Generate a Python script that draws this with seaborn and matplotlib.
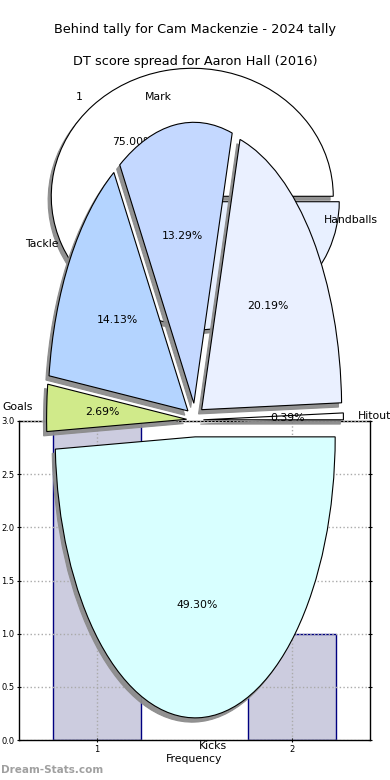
import matplotlib
matplotlib.use("Agg")
import matplotlib.pyplot as plt
import seaborn as sns
import numpy as np

# ---- data ----
bar_title = "Behind tally for Cam Mackenzie - 2024 tally"
freq_labels = ["1", "2"]
freq_counts = [3, 1]

pie1_labels = ["1", "2"]
pie1_values = [3, 1]

dt_title = "DT score spread for Aaron Hall (2016)"
dt_labels = ["Hitout", "Handballs", "Mark", "Tackle", "Goals", "Kicks"]
dt_values = [0.39, 20.19, 13.29, 14.13, 2.69, 49.30]

# ---- styles ----
W, H = 390, 780
fig = plt.figure(figsize=(W / 100, H / 100), dpi=100)
fig.patch.set_facecolor("white")

def px_axes(x0, y0, x1, y1):
    return fig.add_axes([x0 / W, 1 - y1 / H, (x1 - x0) / W, (y1 - y0) / H])

# bar chart axes
axb = px_axes(19, 421, 370, 740)
sns.barplot(x=freq_labels, y=freq_counts, ax=axb, width=0.45, color="#ccccdf",
            saturation=1, edgecolor="#000080", linewidth=1.0, zorder=1)
axb.set_xlim(-0.4, 1.4)
axb.set_ylim(0, 3.0)
axb.set_yticks(np.arange(0, 3.01, 0.5))
axb.set_yticklabels([f"{v:.1f}" for v in np.arange(0, 3.01, 0.5)])
axb.grid(True, linestyle=":", color="#aaaaaa", linewidth=1.0)
axb.set_axisbelow(False)
axb.tick_params(labelsize=6, length=3, width=0.8, direction="inout", right=True, top=True, pad=2)
axb.set_xlabel("Frequency", fontsize=7.8, labelpad=0)
axb.set_ylabel("")
for s in axb.spines.values():
    s.set_linewidth(1.0)
    s.set_color("black")

fig.text(195 / W, 1 - 30 / H, bar_title, ha="center", va="center", fontsize=9.3)

shadow_style = dict(facecolor="#8c8c8c", edgecolor="#8c8c8c", alpha=0.95)

# first pie (frequency share)
axp1 = px_axes(19, 39, 371.5, 359)
axp1.pie(pie1_values, labels=pie1_labels, colors=["white", "#e8f0ff"],
         explode=[0.03, 0.03], autopct="%.2f%%",
         shadow=dict(ox=-0.016, oy=-0.022, **shadow_style),
         wedgeprops=dict(edgecolor="black", linewidth=0.8),
         textprops=dict(fontsize=7.8))
axp1.set_aspect("auto")
axp1.set_xlim(-1.25, 1.25)
axp1.set_ylim(-1.25, 1.25)

# DT score pie
axd = px_axes(20, 68.75, 370, 771.25)
axd.pie(dt_values, labels=dt_labels,
        colors=["white", "#eaf0ff", "#c4d8ff", "#b4d4ff", "#d0ea8a", "#d8ffff"],
        explode=[0.06] * len(dt_values), autopct="%.2f%%",
        shadow=dict(ox=-0.016, oy=-0.011, **shadow_style),
        wedgeprops=dict(edgecolor="black", linewidth=0.8),
        textprops=dict(fontsize=7.8))
axd.set_aspect("auto")
axd.set_xlim(-1.25, 1.25)
axd.set_ylim(-1.25, 1.25)

fig.text(195 / W, 1 - 61 / H, dt_title, ha="center", va="center", fontsize=9.3)

fig.text(1 / W, 1 - 770 / H, "Dream-Stats.com", ha="left", va="center",
         fontsize=7.5, fontweight="bold", color="#a0a0a0")

fig.savefig("out.png", dpi=100)
